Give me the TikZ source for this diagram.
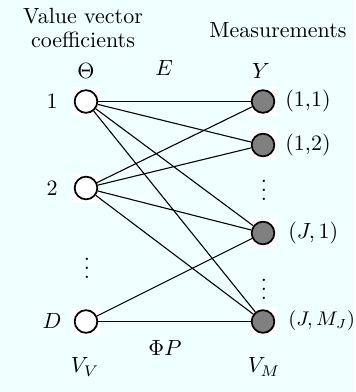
\documentclass[tikz,border=0pt]{standalone}
\usetikzlibrary{positioning,backgrounds}
\definecolor{bgcyan}{RGB}{240,255,255}
\definecolor{measgray}{RGB}{128,128,128}

\begin{document}
\begin{tikzpicture}[x=0.455pt, y=-0.455pt,
    vnode/.style={circle, draw, line width=0.8pt, fill=white, minimum size=10.3pt, inner sep=0pt},
    mnode/.style={vnode, fill=measgray},
    wbox/.style={rectangle, fill=white, minimum width=12.5pt, minimum height=13.5pt, inner sep=0pt},
    vd/.style={inner sep=0pt},
    edge/.style={line width=0.5pt}]

    % 値ベクトル係数 (左)
    \node[vnode] (v1) at (86,101.5) {};
    \node[vnode] (v2) at (86,188) {};
    \node[vnode] (vD) at (86,321.5) {};

    % 測定値 (右)
    \node[mnode] (m11) at (263,101.5) {};
    \node[mnode] (m12) at (263,145) {};
    \node[mnode] (mJ1) at (263,233) {};
    \node[mnode] (mJM) at (263,321.5) {};

    % 見出し
    \node[align=center, inner sep=0pt] (hv) at (83,28) {Value vector\\[-1pt]coefficients};
    \node (hm) at (278,30) {Measurements};
    \node (theta) at (86,71) {$\Theta$};
    \node (lE) at (164,68) {$E$};
    \node (lY) at (261,71) {$Y$};

    % 左側の番号
    \node (n1) at (52,101) {1};
    \node (n2) at (52,188) {2};
    \node[vd] (nd) at (87,262) {$\vdots$};
    \node (nD) at (52,321) {$D$};

    % 右側の番号
    \node[anchor=west, inner sep=0pt] (r11) at (285,101) {(1,1)};
    \node[anchor=west, inner sep=0pt] (r12) at (285,145) {(1,2)};
    \node[vd] (rd1) at (264,184) {$\vdots$};
    \node[anchor=west, inner sep=0pt] (rJ1) at (288,233) {$(J,1)$};
    \node[vd] (rd2) at (264,283) {$\vdots$};
    \node[anchor=west, inner sep=0pt, font=\small] (rJM) at (288,321) {$(J,M_J)$};

    % 下の記号
    \node (lPhiP) at (165,348) {$\Phi P$};
    \node (lVV) at (85,367) {$V_V$};
    \node (lVM) at (264,367) {$V_M$};

    \begin{scope}[on background layer]
        \fill[bgcyan] (0,0) rectangle (354,392);
        % 白い四角
        \foreach \n in {v1,v2,vD,m11,m12,mJ1,mJM}
            \node[wbox] at (\n) {};
        % 辺
        \foreach \a/\b in {v1/m11, v1/m12, v1/mJ1, v1/mJM,
                           v2/m11, v2/m12, v2/mJ1, v2/mJM,
                           vD/mJ1, vD/mJM}
            \draw[edge] (\a) -- (\b);
    \end{scope}

\end{tikzpicture}
\end{document}
